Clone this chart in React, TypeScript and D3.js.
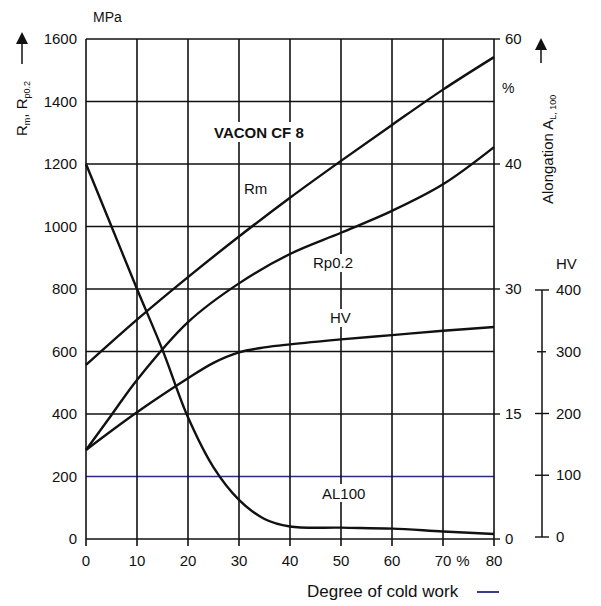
import React from "react";
import * as d3 from "d3";

// ---- data ----
const xTicks = [0, 10, 20, 30, 40, 50, 60, 70, 80];
const mpaTicks = [0, 200, 400, 600, 800, 1000, 1200, 1400, 1600];
const alongTicks = [0, 15, 30, 40, 60];
const alongTickMpa = [0, 400, 800, 1200, 1600];
const hvTicks = [0, 100, 200, 300, 400];

const rmX = [0, 10, 20, 30, 40, 50, 60, 70, 80];
const rmY = [557, 702, 838, 968, 1092, 1210, 1325, 1438, 1542];

const rpX = [0, 5, 10, 20, 30, 40, 50, 60, 70, 80];
const rpY = [285, 397, 509, 694, 818, 912, 980, 1050, 1135, 1254];

const hvX = [0, 10, 20, 25, 30, 35, 40, 50, 60, 70, 80];
const hvY = [141, 202, 257, 282, 299, 307, 312, 320, 327, 334, 340];

const alX = [0, 5, 10, 15, 20, 25, 30, 35, 40, 50, 60, 70, 80];
const alY = [40, 35, 30, 22.7, 14.6, 8.6, 4.7, 2.4, 1.5, 1.36, 1.25, 0.9, 0.6];

const FONT = "'Liberation Sans', Arial, Helvetica, sans-serif";

export default function App() {
  const x = d3.scaleLinear().domain([0, 80]).range([86, 494]);
  const y = d3.scaleLinear().domain([0, 1600]).range([539, 39]);
  const along = d3
    .scaleLinear()
    .domain(alongTicks)
    .range(alongTickMpa.map((v) => y(v)));
  const hv = d3.scaleLinear().domain([0, 400]).range([537, 290]);

  const mk = (xs: number[], ys: number[], sy: (v: number) => number) =>
    d3
      .line<number>()
      .x((_, i) => x(xs[i]))
      .y((v) => sy(v))
      .curve(d3.curveCatmullRom.alpha(0.5))(ys) as string;

  const curves = [
    mk(rmX, rmY, y),
    mk(rpX, rpY, y),
    mk(hvX, hvY, hv),
    mk(alX, alY, along),
  ];

  const gridColor = (v: number) => (v === 200 ? "#2b2b86" : "#111");

  return (
    <svg
      width={601}
      height={606}
      style={{ position: "absolute", left: 0, top: 0, background: "#fff" }}
      fontFamily={FONT}
    >
      <defs>
        <marker id="arr" markerWidth="8" markerHeight="8" refX="4" refY="4" orient="auto">
          <path d="M0,0 L8,4 L0,8 z" fill="#111" />
        </marker>
      </defs>
      {/* horizontal grid */}
      {mpaTicks.map((v) => (
        <line
          key={"h" + v}
          x1={x(0)}
          x2={x(80)}
          y1={y(v)}
          y2={y(v)}
          stroke={gridColor(v)}
          strokeWidth={1.6}
        />
      ))}
      {/* vertical grid */}
      {xTicks.map((v) => (
        <line
          key={"v" + v}
          x1={x(v)}
          x2={x(v)}
          y1={y(1600)}
          y2={y(0) + 7}
          stroke="#111"
          strokeWidth={1.6}
        />
      ))}
      {/* right alongation ticks */}
      {alongTicks.map((v) => (
        <g key={"a" + v}>
          <line x1={x(80)} x2={x(80) + 6} y1={along(v)} y2={along(v)} stroke="#111" strokeWidth={1.4} />
          <text x={505} y={along(v) + 5} fontSize={15} fill="#111">
            {v}
          </text>
        </g>
      ))}
      <text x={502} y={93} fontSize={14} fill="#111">%</text>

      {/* left tick labels */}
      {mpaTicks.map((v) => (
        <text key={"l" + v} x={77} y={y(v) + 5} fontSize={15} textAnchor="end" fill="#111">
          {v}
        </text>
      ))}
      <text x={93} y={22} fontSize={14} fill="#111">MPa</text>

      {/* bottom tick labels */}
      {xTicks.map((v) => (
        <text key={"b" + v} x={x(v)} y={566} fontSize={15} textAnchor="middle" fill="#111">
          {v}
        </text>
      ))}
      <text x={463} y={566} fontSize={15} textAnchor="middle" fill="#111">%</text>

      <text x={307} y={597} fontSize={17} fill="#111">Degree of cold work</text>
      <line x1={477} x2={499} y1={592} y2={592} stroke="#3c3c8c" strokeWidth={2} />

      {/* left rotated label */}
      <g transform="translate(27,136) rotate(-90)">
        <text x={0} y={0} fontSize={15} fill="#111">
          R<tspan fontSize={9} dy={3}>m</tspan>
          <tspan dy={-3}>, R</tspan>
          <tspan fontSize={9} dy={3}>p0.2</tspan>
        </text>
        <line x1={72} x2={98} y1={-5} y2={-5} stroke="#111" strokeWidth={1.5} markerEnd="url(#arr)" />
      </g>

      {/* right rotated label */}
      <g transform="translate(553,204) rotate(-90)">
        <text x={0} y={0} fontSize={15} fill="#111">
          Alongation A<tspan fontSize={9} dy={3}>L, 100</tspan>
        </text>
      </g>
      <line x1={541} x2={541} y1={63} y2={44} stroke="#111" strokeWidth={1.5} markerEnd="url(#arr)" />

      {/* HV axis */}
      <line x1={542} x2={542} y1={hv(400)} y2={hv(0)} stroke="#111" strokeWidth={1.5} />
      {hvTicks.map((v) => (
        <g key={"hv" + v}>
          <line
            x1={v === 300 ? 537 : 535}
            x2={v === 300 ? 546 : 549}
            y1={hv(v)}
            y2={hv(v)}
            stroke="#111"
            strokeWidth={1.4}
          />
          <text x={556} y={hv(v) + 5} fontSize={15} fill="#111">
            {v}
          </text>
        </g>
      ))}
      <text x={556} y={269} fontSize={15} fill="#111">HV</text>

      {/* curves */}
      {curves.map((d, i) => (
        <path key={"c" + i} d={d} fill="none" stroke="#111" strokeWidth={2.4} />
      ))}

      {/* in-plot labels */}
      <rect x={212} y={122} width={104} height={20} fill="#fff" />
      <text x={214} y={138} fontSize={15} fontWeight="bold" fill="#111">VACON CF 8</text>
      <text x={244} y={194} fontSize={15} fill="#111">Rm</text>
      <rect x={312} y={254} width={48} height={18} fill="#fff" />
      <text x={313} y={268} fontSize={15} fill="#111">Rp0.2</text>
      <rect x={328} y={309} width={24} height={18} fill="#fff" />
      <text x={330} y={323} fontSize={15} fill="#111">HV</text>
      <rect x={321} y={484} width={52} height={18} fill="#fff" />
      <text x={322} y={499} fontSize={15} fill="#111">AL100</text>
    </svg>
  );
}
